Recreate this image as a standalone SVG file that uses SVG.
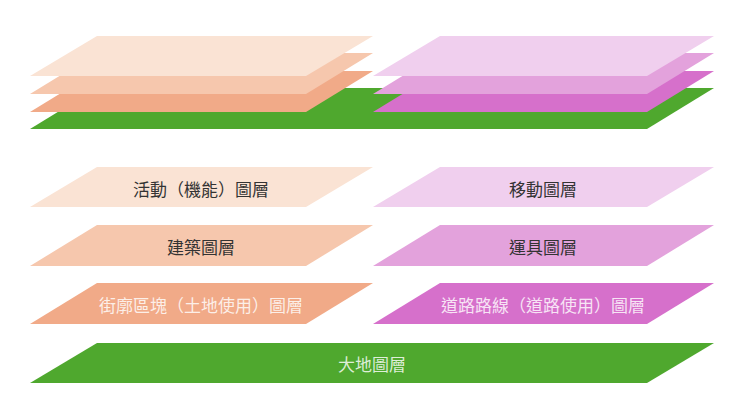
<svg xmlns="http://www.w3.org/2000/svg" width="740" height="417" viewBox="0 0 740 417">
<style>
.p1{fill:#FAE3D4}.p2{fill:#F6C7AD}.p3{fill:#F1AA88}
.m1{fill:#F0CFEE}.m2{fill:#E3A2DC}.m3{fill:#D670CB}
.g{fill:#4FA82E}
text{font-family:"Noto Sans CJK TC","Noto Sans CJK SC",sans-serif;font-size:17px;text-anchor:middle;dominant-baseline:central}
.dk{fill:#333333}.lt{fill:#FFFFFF;fill-opacity:0.82}
</style>
<rect width="740" height="417" fill="#FFFFFF"/>
<g id="overview">
<polygon class="g" points="97,88 714,88 647,129 30,129"/>
<polygon class="p3" points="97,71 373,71 306,112 30,112"/>
<polygon class="p2" points="97,53 373,53 306,94 30,94"/>
<polygon class="p1" points="97,36 373,36 306,76 30,76"/>
<polygon class="m3" points="440,71 714,71 647,112 373,112"/>
<polygon class="m2" points="440,53 714,53 647,94 373,94"/>
<polygon class="m1" points="440,36 714,36 647,76 373,76"/>
</g>
<g id="activity-layer">
<polygon class="p1" points="97,167 373,167 306,207 30,207"/>
<text class="dk" x="201" y="188">活動（機能）圖層</text>
</g>
<g id="movement-layer">
<polygon class="m1" points="440,167 714,167 647,207 373,207"/>
<text class="dk" x="543" y="188">移動圖層</text>
</g>
<g id="building-layer">
<polygon class="p2" points="97,225 373,225 306,266 30,266"/>
<text class="dk" x="201" y="246">建築圖層</text>
</g>
<g id="vehicle-layer">
<polygon class="m2" points="440,225 714,225 647,266 373,266"/>
<text class="dk" x="543" y="246">運具圖層</text>
</g>
<g id="block-layer">
<polygon class="p3" points="97,283 373,283 306,324 30,324"/>
<text class="lt" x="201" y="304">街廓區塊（土地使用）圖層</text>
</g>
<g id="road-layer">
<polygon class="m3" points="440,283 714,283 647,324 373,324"/>
<text class="lt" x="543" y="304">道路路線（道路使用）圖層</text>
</g>
<g id="ground-layer">
<polygon class="g" points="97,343 714,343 647,383 30,383"/>
<text class="lt" x="372" y="363">大地圖層</text>
</g>
<g id="connectors"/>
</svg>
